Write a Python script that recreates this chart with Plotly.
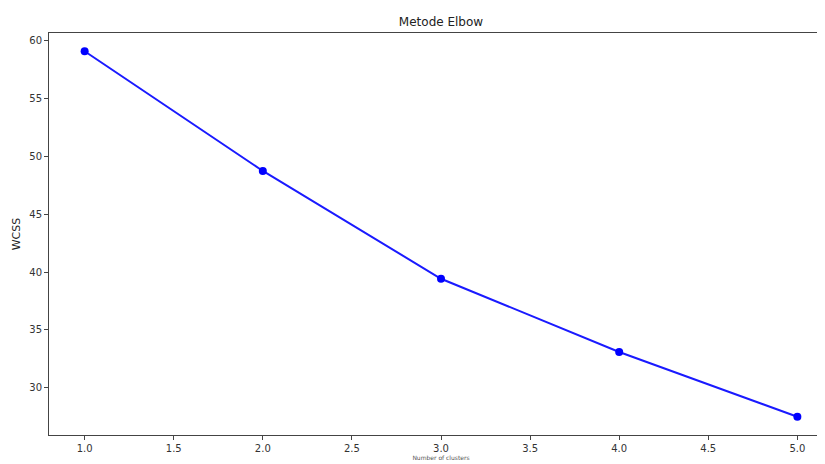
import plotly.graph_objects as go

clusters = [1, 2, 3, 4, 5]
wcss = [59.1, 48.75, 39.43, 33.1, 27.5]

x_ticks = [1.0, 1.5, 2.0, 2.5, 3.0, 3.5, 4.0, 4.5, 5.0]
y_ticks = [30, 35, 40, 45, 50, 55, 60]

fig = go.Figure()
fig.add_trace(go.Scatter(
    x=clusters, y=wcss, mode="lines+markers",
    line=dict(color="#1a1aff", width=2),
    marker=dict(color="#0000ff", size=8),
    cliponaxis=False,
))

axis_common = dict(
    showgrid=False, zeroline=False, showline=True, linecolor="#444", linewidth=1,
    ticks="outside", ticklen=4, tickcolor="#444", automargin=False,
    tickfont=dict(family="DejaVu Sans", size=10, color="#333"),
)

fig.update_layout(
    width=825, height=464,
    margin=dict(l=41, r=0, t=25, b=37, autoexpand=False),
    paper_bgcolor="white", plot_bgcolor="white",
    showlegend=False,
    title=dict(text="Metode Elbow", x=433/825, xanchor="center", y=1-14/464, yanchor="middle",
               font=dict(family="DejaVu Sans", size=12, color="#222")),
    xaxis=dict(range=[0.8, 5.2], tickvals=x_ticks, ticktext=[f"{v:.1f}" for v in x_ticks],
               mirror=True,
               title=dict(text="Number of clusters", font=dict(family="DejaVu Sans", size=6, color="#555"),
                          standoff=0),
               **axis_common),
    yaxis=dict(range=[25.92, 60.68], tickvals=y_ticks, ticktext=[str(v) for v in y_ticks],
               title=dict(text="WCSS", font=dict(family="DejaVu Sans", size=11, color="#222"),
                          standoff=6),
               **axis_common),
)

fig.write_html("out.html")
